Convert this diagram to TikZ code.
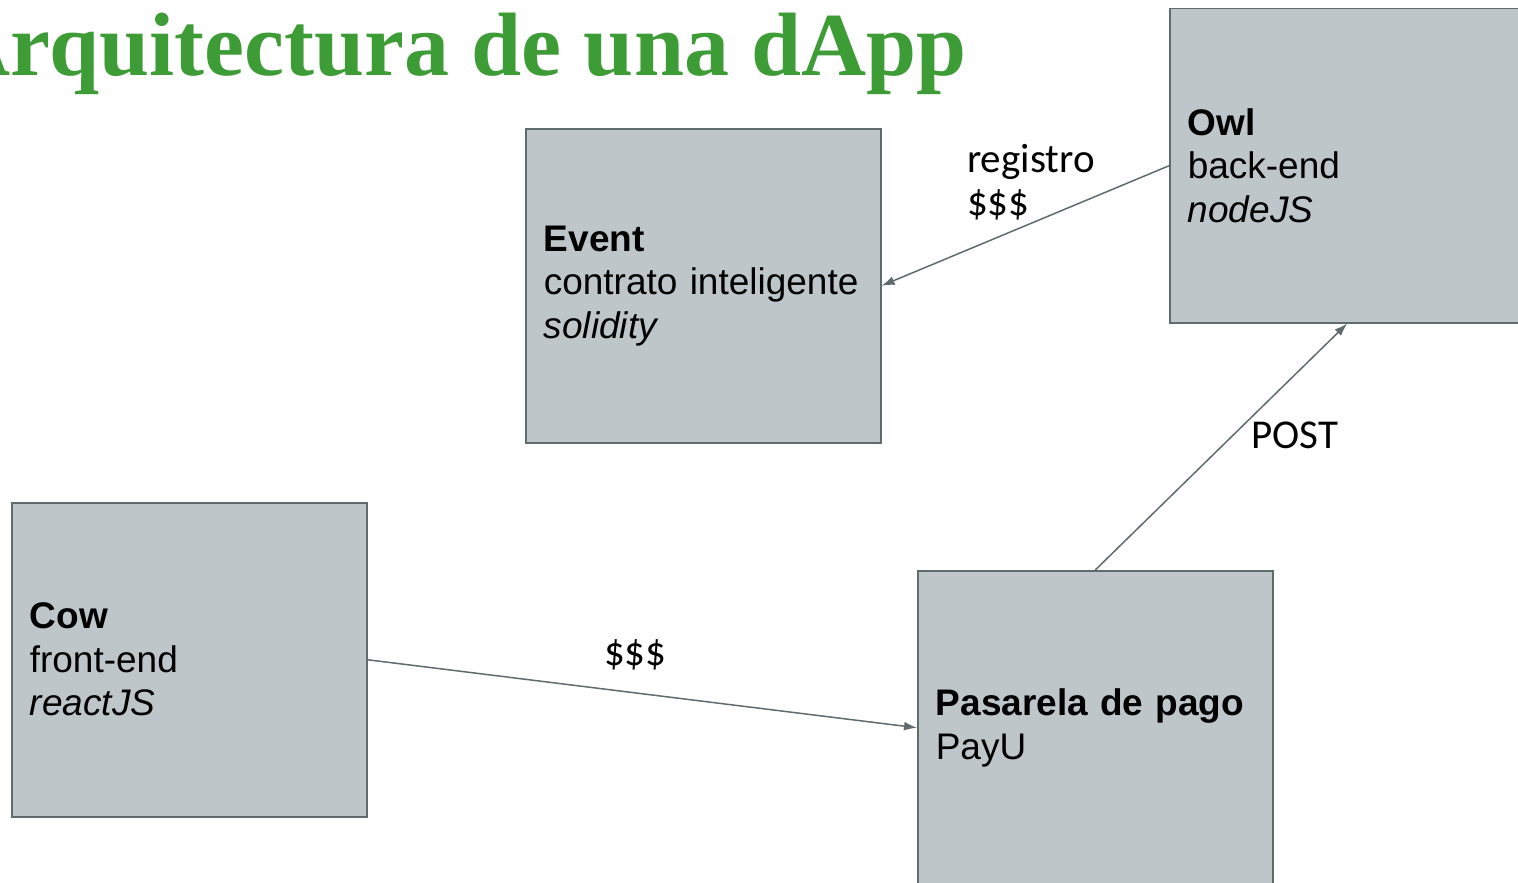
\documentclass[tikz,border=0pt]{standalone}
\usepackage{fontspec}
\setmainfont{Liberation Sans}
\newfontfamily\titlefont{Liberation Serif}
\newfontfamily\labelfont{Carlito}
\usetikzlibrary{arrows.meta}
\definecolor{boxfill}{HTML}{BFC6C9}
\definecolor{boxline}{HTML}{5F6B6C}
\definecolor{titlegreen}{HTML}{3E9C37}
\tikzset{
  x=1pt, y=-1pt,
  block/.style={draw=boxline, line width=1.5pt, fill=boxfill, minimum width=355pt, minimum height=314pt,
    inner xsep=18pt, text width=319pt, align=left, font=\fontsize{37}{43.5}\selectfont, anchor=north west},
  conn/.style={draw=boxline, line width=1.5pt, -{Latex[length=13pt,width=9pt]}},
  lbl/.style={font=\labelfont\fontsize{41}{43}\selectfont, inner sep=0pt, anchor=base west, align=left}
}
\begin{document}
\begin{tikzpicture}
\useasboundingbox (0,0) rectangle (1518,883);
\clip (0,0) rectangle (1518,883);
\node[font=\titlefont\bfseries\fontsize{90}{94}\selectfont, text=titlegreen, anchor=base east, inner sep=0pt] (title) at (967,75) {Arquitectura de una dApp};
\node[block] (event) at (525,128) {\textbf{Event}\\contrato inteligente\\\textit{solidity}};
\node[block] (owl) at (1169,8) {\textbf{Owl}\\back-end\\\textit{nodeJS}};
\node[block] (cow) at (11,502) {\textbf{Cow}\\front-end\\\textit{reactJS}};
\node[block] (pay) at (917,570) {\textbf{Pasarela de pago}\\PayU};
\draw[conn] (owl.west) -- (event.east);
\draw[conn] (pay.north) -- (owl.south);
\draw[conn] (cow.east) -- (pay.west);
\node[lbl] (l1) at (967,215) {registro\\\$\$\$};
\node[lbl] (l2) at (1251,448) {POST};
\node[lbl] (l3) at (604,665) {\$\$\$};
\end{tikzpicture}
\end{document}
